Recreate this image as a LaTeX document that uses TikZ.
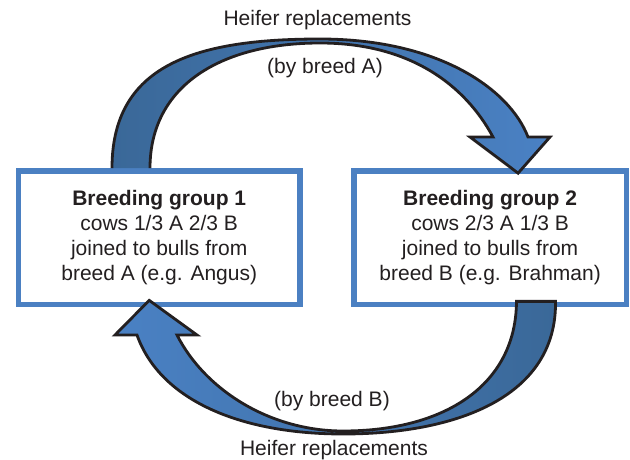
\documentclass[tikz,border=0pt]{standalone}
\usepackage{fontspec}
\setmainfont{Liberation Sans}
\usepackage{xcolor}
\usepackage{tikz}
\definecolor{boxblue}{HTML}{4B80C2}
\definecolor{arrowdark}{HTML}{3A6898}
\definecolor{arrowlight}{HTML}{4A81C4}
\definecolor{ink}{HTML}{231F20}

\begin{document}
\begin{tikzpicture}[x=1pt, y=-1pt, font=\fontsize{21}{25}\selectfont, text=ink,
  groupbox/.style={draw=boxblue, line width=5.7pt, fill=white, align=center, inner sep=0pt, minimum height=133.5pt},
  arrowline/.style={draw=ink, line width=2.8pt, line join=miter}]

\useasboundingbox[fill=white] (0,0) rectangle (630,460);

% the two breeding groups
\node[groupbox, minimum width=281.7pt] at (159.2, 237.75) (g1) {\textbf{Breeding group 1}\\cows 1/3 A 2/3 B\\joined to bulls from\\breed A (e.g. Angus)};
\node[groupbox, minimum width=272.8pt] at (490.1, 237.75) (g2) {\textbf{Breeding group 2}\\cows 2/3 A 1/3 B\\joined to bulls from\\breed B (e.g. Brahman)};

% ends of the two big arrows
\coordinate (aOut) at ([xshift=-47.2pt]g1.north);
\coordinate (aIn) at ([xshift=-9.2pt]g1.north);
\coordinate (aTip) at ([xshift=28pt, yshift=-5pt]g2.north);
\coordinate (bOut) at ([xshift=65.4pt, yshift=6pt]g2.south);
\coordinate (bIn) at ([xshift=26.4pt, yshift=6pt]g2.south);
\coordinate (bTip) at ([xshift=-10pt, yshift=7pt]g1.south);

% group 1 -> group 2 (tail tucked under the box border)
\shade[left color=arrowdark, right color=arrowlight] (aOut) .. controls (112,65) and (195,39) .. (320,39) .. controls (440,39) and (510,90) .. (528,137) -- (550,137) -- (aTip) -- (470,137) -- (493,137) .. controls (465,85) and (410,43) .. (320,43) .. controls (222,43) and (150,85) .. (aIn) -- cycle;
\draw[arrowline] (aOut) .. controls (112,65) and (195,39) .. (320,39) .. controls (440,39) and (510,90) .. (528,137) -- (550,137) -- (aTip) -- (470,137) -- (493,137) .. controls (465,85) and (410,43) .. (320,43) .. controls (222,43) and (150,85) .. (aIn);

% group 2 -> group 1
\draw[arrowline, left color=arrowlight, right color=arrowdark] (bOut) .. controls (557,395) and (460,434) .. (343,434) .. controls (240,434) and (160,400) .. (137,335) -- (115,335) -- (bTip) -- (197,335) -- (177,335) .. controls (205,390) and (270,431) .. (343,431) .. controls (445,431) and (516,385) .. (bIn) -- cycle;

\node[anchor=base] at (317.5, 26) (topcap) {Heifer replacements};
\node[anchor=base] at (325, 74) (topsub) {(by breed A)};
\node[anchor=base] at (332, 406) (botsub) {(by breed B)};
\node[anchor=base] at (334, 455) (botcap) {Heifer replacements};

\end{tikzpicture}
\end{document}
